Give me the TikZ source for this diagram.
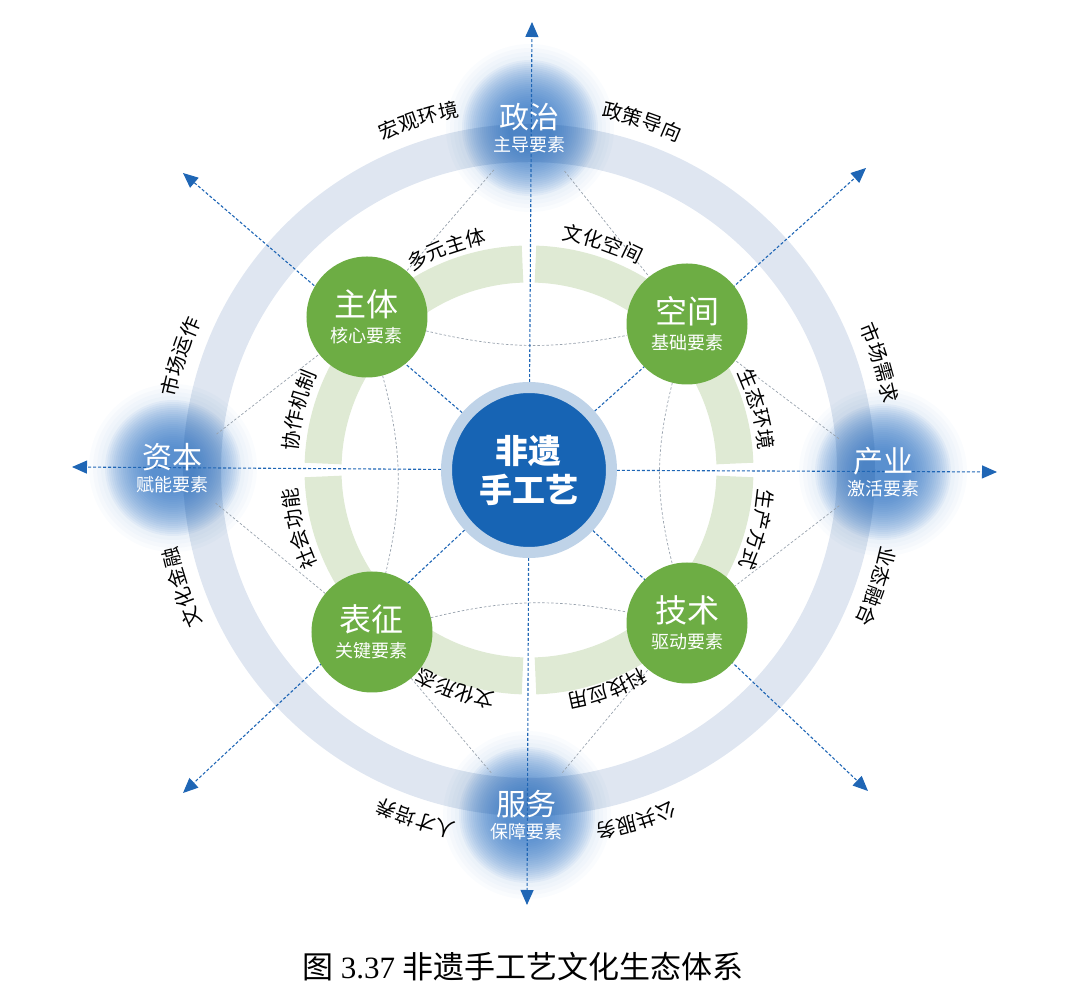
\documentclass[tikz,border=0pt]{standalone}
\usepackage{fontspec}
\setmainfont{Noto Sans CJK SC}
\newfontfamily\numfont{Liberation Serif}
\usetikzlibrary{arrows.meta,positioning,calc}
\definecolor{axisblue}{HTML}{1F66B5}
\definecolor{glowblue}{HTML}{2E72C2}
\definecolor{leafgreen}{HTML}{6DAD44}
\definecolor{ringblue}{HTML}{DFE6F1}
\definecolor{ringgreen}{HTML}{DFEAD4}
\definecolor{corering}{HTML}{BFD3E8}
\definecolor{coreblue}{HTML}{1764B4}
\definecolor{meshgray}{HTML}{98A2AD}
\pgfdeclarelayer{bg}
\pgfsetlayers{bg,main}
\tikzset{
  corenode/.style={circle, fill=coreblue, draw=corering, line width=11pt, minimum size=165pt, text=white, align=center, inner sep=0pt,
    font=\bfseries\fontsize{33}{39}\selectfont},
  leafnode/.style={circle, fill=leafgreen, minimum size=121pt, text=white, align=center, inner sep=0pt,
    font=\fontsize{32}{26}\selectfont},
  glownode/.style={circle, minimum size=110pt, text=white, align=center, inner sep=0pt,
    font=\fontsize{30}{23}\selectfont},
  axisline/.style={-{Triangle[length=15pt,width=13pt]}, axisblue, line width=1.1pt, dash pattern=on 3pt off 2pt},
  meshline/.style={meshgray, line width=0.7pt, dash pattern=on 2.5pt off 2pt},
  arcchar/.style={font=\fontsize{20}{20}\selectfont, inner sep=0pt},
}
\newcommand{\sub}[1]{{\fontsize{18}{18}\selectfont #1}}
% one character per node, laid along an arc round the centre
\newcommand{\ringlabel}[5]{%
  \foreach \ch [count=\k] in {#5}{%
    \pgfmathsetmacro\ang{#2+(2.5-\k)*#4}
    \node[arcchar, rotate=\ang-90] (#1\k) at (\ang:#3) {\ch};
  }}
\newcommand{\glowat}[1]{%
  \foreach \rad in {84,80,76,72} \fill[glowblue, opacity=0.025] (#1) circle (\rad);
  \foreach \rad in {68,66,...,22} \fill[glowblue, opacity=0.06] (#1) circle (\rad);}

\begin{document}
\begin{tikzpicture}[x=1pt,y=1pt]
  \useasboundingbox (-529,-538) rectangle (539,470);

  % core and the four green elements
  \node[corenode] (core) at (0,0) {非遗\\手工艺};
  \node[leafnode] (zhuti) at (-162,153) {主体\\\sub{核心要素}};
  \node[leafnode] (kongjian) at (158,146) {空间\\\sub{基础要素}};
  \node[leafnode] (biaozheng) at (-157,-162) {表征\\\sub{关键要素}};
  \node[leafnode] (jishu) at (158,-153) {技术\\\sub{驱动要素}};

  % the four blue elements on the outer ring
  \node[glownode] (zhengzhi) at (1,342) {政治\\\sub{主导要素}};
  \node[glownode] (ziben) at (-356,2) {资本\\\sub{赋能要素}};
  \node[glownode] (chanye) at (354,-2) {产业\\\sub{激活要素}};
  \node[glownode] (fuwu) at (-2,-345) {服务\\\sub{保障要素}};

  % arrow ends
  \coordinate (tipN) at (3,448);
  \coordinate (tipS) at (-2,-435);
  \coordinate (tipW) at (-457,3);
  \coordinate (tipE) at (468,-2);
  \coordinate (tipNW) at (-346,297);
  \coordinate (tipNE) at (337,302);
  \coordinate (tipSW) at (-346,-323);
  \coordinate (tipSE) at (339,-321);

  \begin{pgfonlayer}{bg}
    % rings
    \draw[ringblue, line width=38pt] (0,0) circle (327);
    \foreach \a in {0,90,180,270}
      \draw[ringgreen, line width=37pt] (\a+1.8:206) arc[start angle=\a+1.8, end angle=\a+88.2, radius=206];
    % glows
    \glowat{zhengzhi}
    \glowat{ziben}
    \glowat{chanye}
    \glowat{fuwu}
    % mesh
    \foreach \from/\to in {zhengzhi/zhuti, zhengzhi/kongjian, ziben/zhuti, ziben/biaozheng,
                           chanye/kongjian, chanye/jishu, fuwu/biaozheng, fuwu/jishu}
      \draw[meshline] (\from) -- (\to);
    \draw[meshline] (zhuti) to[bend right=12] (kongjian);
    \draw[meshline] (biaozheng) to[bend left=12] (jishu);
    \draw[meshline] (zhuti) to[bend left=14] (biaozheng);
    \draw[meshline] (kongjian) to[bend right=14] (jishu);
    % axes
    \foreach \tip in {tipN,tipS,tipW,tipE,tipNW,tipNE,tipSW,tipSE}
      \draw[axisline] (core) -- (\tip);
  \end{pgfonlayer}

  % outer ring labels
  \ringlabel{hongguan}{107.5}{368}{3.25}{宏,观,环,境}
  \ringlabel{zhengce}{72}{368}{3.25}{政,策,导,向}
  \ringlabel{yunzuo}{162}{368}{3.25}{市,场,运,作}
  \ringlabel{xuqiu}{17}{368}{3.25}{市,场,需,求}
  \ringlabel{jinrong}{198.7}{368}{3.25}{文,化,金,融}
  \ringlabel{ronghe}{341.5}{368}{3.25}{业,态,融,合}
  \ringlabel{rencai}{252}{368}{3.25}{人,才,培,养}
  \ringlabel{gonggong}{287}{368}{3.25}{公,共,服,务}

  % inner ring labels
  \ringlabel{duoyuan}{110.5}{238}{5}{多,元,主,体}
  \ringlabel{kongjianlbl}{72}{240}{5}{文,化,空,间}
  \ringlabel{xiezuo}{165.5}{240}{5}{协,作,机,制}
  \ringlabel{shengtai}{15}{238}{5}{生,态,环,境}
  \ringlabel{shehui}{194.4}{240}{5}{社,会,功,能}
  \ringlabel{shengchan}{345.4}{238}{5}{生,产,方,式}
  \ringlabel{xingtai}{251.4}{233}{5}{文,化,形,态}
  \ringlabel{keji}{289.7}{235}{5}{科,技,应,用}

  % caption
  \node (caption) at (-6,-497) {\fontsize{31}{31}\selectfont 图 {\numfont 3.37} 非遗手工艺文化生态体系};
\end{tikzpicture}
\end{document}
